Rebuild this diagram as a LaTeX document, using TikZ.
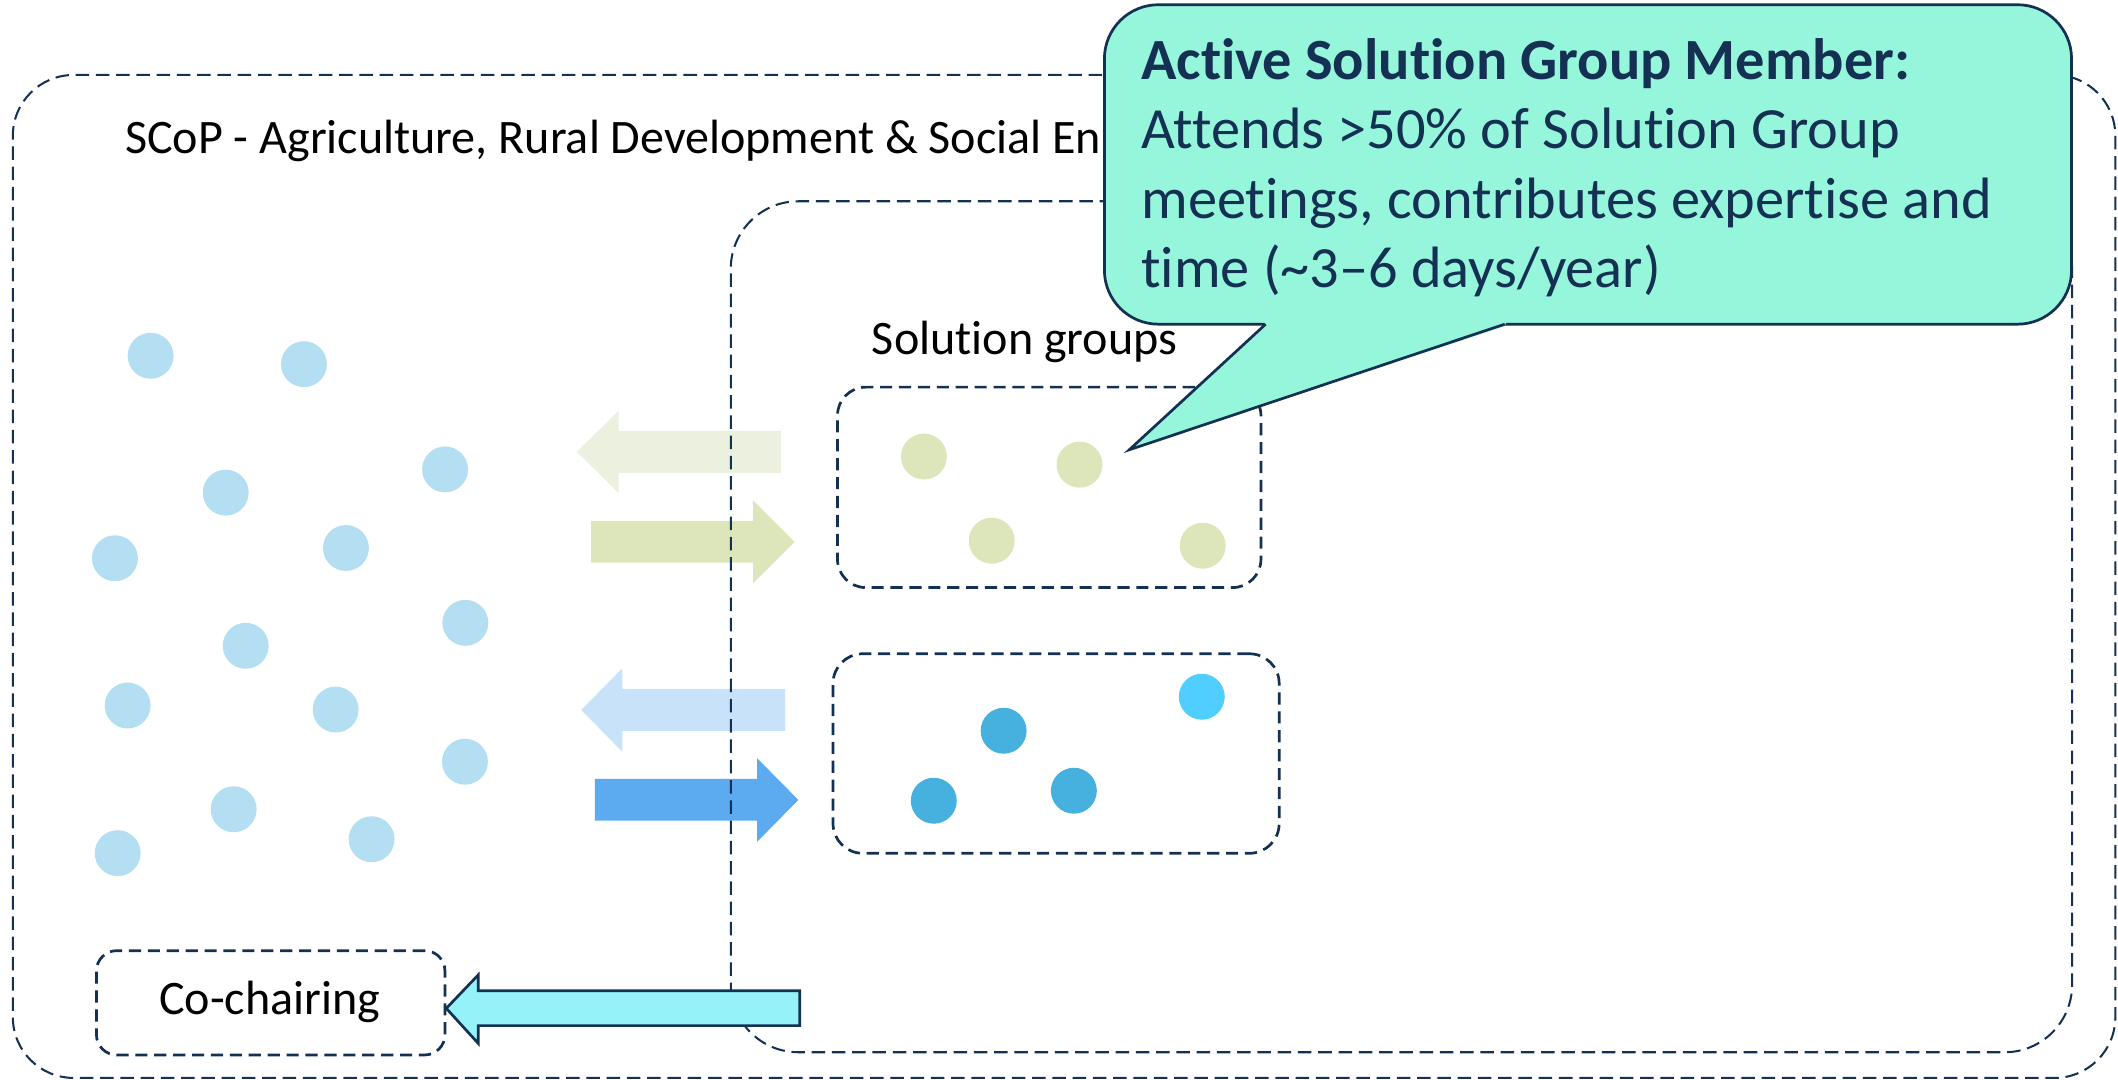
\documentclass[tikz,border=0pt]{standalone}
\usepackage{fontspec}
\setmainfont{Carlito}[Ligatures=NoCommon]
\definecolor{navy}{RGB}{20,48,82}
\definecolor{calloutfill}{RGB}{150,246,219}
\definecolor{cochairfill}{RGB}{148,242,248}
\definecolor{leftdot}{RGB}{180,222,242}
\definecolor{greendot}{RGB}{220,230,186}
\definecolor{palegreen}{RGB}{235,241,222}
\definecolor{paleblue}{RGB}{200,226,250}
\definecolor{midblue}{RGB}{92,170,240}
\definecolor{bluedot}{RGB}{70,176,222}
\definecolor{cyandot}{RGB}{80,206,255}
\tikzset{
  bigbox/.style={draw=navy, line width=1.5pt, dash pattern=on 10pt off 5pt, rounded corners=#1, inner sep=0pt},
  grpbox/.style={draw=navy, line width=2pt, dash pattern=on 9pt off 5pt, rounded corners=#1, inner sep=0pt},
  dotnode/.style={circle, fill=#1, minimum size=34pt, inner sep=0pt},
  maintext/.style={font=\fontsize{35.6}{42}\selectfont, text=black, inner sep=0pt},
  calltext/.style={font=\fontsize{43.2}{51.5}\selectfont, text=navy, inner sep=0pt, anchor=base west},
  callbox/.style={draw=navy, fill=calloutfill, line width=2pt, rounded corners=40pt, inner sep=0pt},
}
\begin{document}
\begin{tikzpicture}[x=1pt,y=-1pt]
\useasboundingbox (0,0) rectangle (1568,799.5);

% outer community box
\node[bigbox=45pt, minimum width=1556.5pt, minimum height=742.5pt] (outer) at (787.75,426.75) {};
\begin{scope}
\clip (0,60) rectangle (816,140);
\node[maintext, anchor=base west] (scop) at (92.5,113.5) {SCoP - Agriculture, Rural Development \& Social En};
\end{scope}

% community members
\foreach \n/\x/\y in {1/111.5/263.4, 2/225/269.6, 3/329.5/347.5, 4/167.1/364.7, 5/85.1/413.3,
  6/256.1/405.7, 7/344.5/461.1, 8/181.9/478.1, 9/94.5/522.3, 10/248.5/525.3,
  11/344.2/563.9, 12/173/599.1, 13/275.1/621.3, 14/87.1/631.6}
  \node[dotnode=leftdot] (m\n) at (\x,\y) {};

% exchange arrows
\fill[palegreen] (578,319) -- (458,319) -- (458,304) -- (427,334.5) -- (458,365) -- (458,350) -- (578,350) -- cycle;
\fill[greendot] (437.6,385.7) -- (557.5,385.7) -- (557.5,370.4) -- (588.2,401.1) -- (557.5,431.8) -- (557.5,416.6) -- (437.6,416.6) -- cycle;
\fill[paleblue] (581.2,510) -- (460.7,510) -- (460.7,494.8) -- (430.3,525.6) -- (460.7,556.5) -- (460.7,541) -- (581.2,541) -- cycle;
\fill[midblue] (440.4,576.7) -- (560.6,576.7) -- (560.6,561.4) -- (591,592.2) -- (560.6,623.1) -- (560.6,607.6) -- (440.4,607.6) -- cycle;

% solution groups area
\node[bigbox=50pt, minimum width=993pt, minimum height=630pt] (inner) at (1037.5,464) {};
\node[maintext, anchor=base west] (sglabel) at (645.3,262.8) {Solution groups};

\node[grpbox=21pt, minimum width=313.5pt, minimum height=148.4pt] (g1) at (776.75,360.8) {};
\node[dotnode=greendot] (g1a) at (684,338) {};
\node[dotnode=greendot] (g1b) at (799.2,344) {};
\node[dotnode=greendot] (g1c) at (734.2,400.3) {};
\node[dotnode=greendot] (g1d) at (890.4,404) {};

\node[grpbox=22pt, minimum width=330.3pt, minimum height=147.7pt] (g2) at (781.85,557.85) {};
\node[dotnode=cyandot] (g2a) at (889.7,515.8) {};
\node[dotnode=bluedot] (g2b) at (743,541) {};
\node[dotnode=bluedot] (g2c) at (691.3,592.8) {};
\node[dotnode=bluedot] (g2d) at (795,585.4) {};

% co-chairing
\node[grpbox=15pt, minimum width=258pt, minimum height=77.2pt] (cochair) at (200.4,742.4) {};
\node[maintext, anchor=base] (cochairtxt) at (199.7,751.4) {Co-chairing};
\filldraw[fill=cochairfill, draw=navy, line width=2pt, line join=miter]
  (592,733.4) -- (354,733.4) -- (354,721.8) -- (cochair.east |- 0,746.5) -- (354,772.4) -- (354,759.3) -- (592,759.3) -- cycle;

% callout
\node[callbox, minimum width=716pt, minimum height=236.5pt] (callout) at (1175.6,121.75) {};
\coordinate (pa) at (937,240);
\coordinate (pb) at (1114,240);
\coordinate (tip) at (836,333);
\fill[calloutfill] (935,236) -- (1116,236) -- (1114,241.5) -- (tip) -- (937,241.5) -- cycle;
\draw[navy, line width=2pt, line join=miter] (pa) -- (tip) -- (pb);
\node[calltext, font=\fontsize{43.2}{51.5}\selectfont\bfseries] (c1) at (844.8,58.7) {Active Solution Group Member:};
\node[calltext] (c2) at (844.8,109.8) {Attends >50\% of Solution Group};
\node[calltext] (c3) at (844.8,161.7) {meetings, contributes expertise and};
\node[calltext] (c4) at (844.8,213) {time (\textasciitilde3–6 days/year)};
\end{tikzpicture}
\end{document}
